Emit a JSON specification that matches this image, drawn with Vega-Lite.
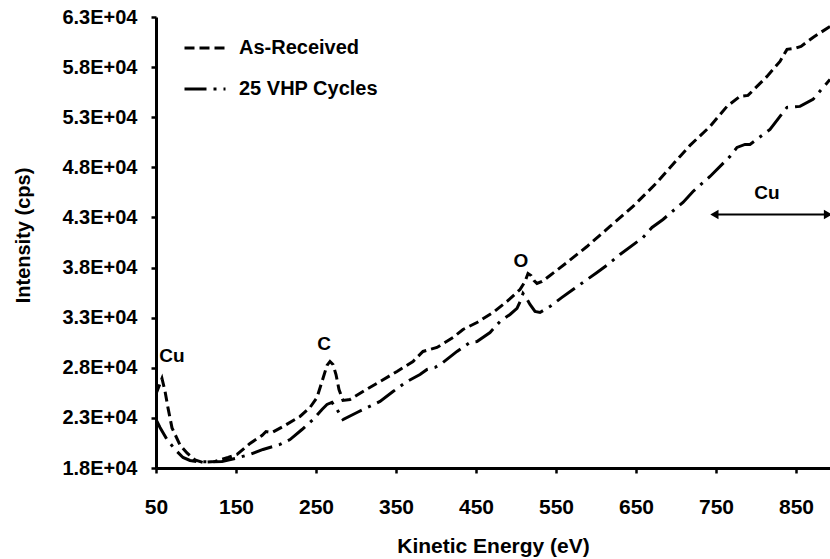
{
  "$schema": "https://vega.github.io/schema/vega-lite/v6.json",
  "width": 674,
  "height": 451,
  "autosize": {"type": "none"},
  "padding": {"left": 156, "top": 17, "right": 0, "bottom": 91},
  "background": "white",
  "config": {
    "view": {"stroke": null},
    "font": "Liberation Sans",
    "axis": {
      "domainColor": "black", "domainWidth": 3, "tickColor": "black", "tickWidth": 2.5, "tickSize": 5,
      "labelFont": "Liberation Sans", "labelFontWeight": "bold", "labelColor": "black", "labelFlush": false, "labelOverlap": false,
      "titleFont": "Liberation Sans", "titleFontWeight": "bold", "titleColor": "black", "grid": false
    }
  },
  "datasets": {
    "spectra": [
      {"series": "As-Received", "eV": 50, "cps": 25400},
      {"series": "As-Received", "eV": 55, "cps": 26400},
      {"series": "As-Received", "eV": 57.5, "cps": 26930},
      {"series": "As-Received", "eV": 61.25, "cps": 25680},
      {"series": "As-Received", "eV": 65, "cps": 24000},
      {"series": "As-Received", "eV": 70, "cps": 22000},
      {"series": "As-Received", "eV": 80, "cps": 20300},
      {"series": "As-Received", "eV": 88.75, "cps": 19500},
      {"series": "As-Received", "eV": 98.75, "cps": 18800},
      {"series": "As-Received", "eV": 108.75, "cps": 18550},
      {"series": "As-Received", "eV": 123.75, "cps": 18650},
      {"series": "As-Received", "eV": 140, "cps": 19050},
      {"series": "As-Received", "eV": 151.25, "cps": 19350},
      {"series": "As-Received", "eV": 167.5, "cps": 20450},
      {"series": "As-Received", "eV": 182.5, "cps": 21240},
      {"series": "As-Received", "eV": 187.5, "cps": 21640},
      {"series": "As-Received", "eV": 195, "cps": 21540},
      {"series": "As-Received", "eV": 208.75, "cps": 22140},
      {"series": "As-Received", "eV": 230, "cps": 23140},
      {"series": "As-Received", "eV": 242.5, "cps": 24040},
      {"series": "As-Received", "eV": 251.25, "cps": 25040},
      {"series": "As-Received", "eV": 257.5, "cps": 26630},
      {"series": "As-Received", "eV": 263.75, "cps": 28230},
      {"series": "As-Received", "eV": 267.5, "cps": 28630},
      {"series": "As-Received", "eV": 271.25, "cps": 28330},
      {"series": "As-Received", "eV": 275, "cps": 27330},
      {"series": "As-Received", "eV": 278.75, "cps": 25830},
      {"series": "As-Received", "eV": 283.75, "cps": 24740},
      {"series": "As-Received", "eV": 292.5, "cps": 24840},
      {"series": "As-Received", "eV": 308.75, "cps": 25630},
      {"series": "As-Received", "eV": 330, "cps": 26630},
      {"series": "As-Received", "eV": 351.25, "cps": 27630},
      {"series": "As-Received", "eV": 371.25, "cps": 28630},
      {"series": "As-Received", "eV": 383.75, "cps": 29630},
      {"series": "As-Received", "eV": 401.25, "cps": 30030},
      {"series": "As-Received", "eV": 421.25, "cps": 31020},
      {"series": "As-Received", "eV": 433.75, "cps": 31820},
      {"series": "As-Received", "eV": 451.25, "cps": 32520},
      {"series": "As-Received", "eV": 471.25, "cps": 33520},
      {"series": "As-Received", "eV": 488.75, "cps": 34620},
      {"series": "As-Received", "eV": 505, "cps": 35810},
      {"series": "As-Received", "eV": 511.25, "cps": 36610},
      {"series": "As-Received", "eV": 515, "cps": 37410},
      {"series": "As-Received", "eV": 518.75, "cps": 37210},
      {"series": "As-Received", "eV": 522.5, "cps": 36710},
      {"series": "As-Received", "eV": 526.25, "cps": 36410},
      {"series": "As-Received", "eV": 532.5, "cps": 36610},
      {"series": "As-Received", "eV": 542.5, "cps": 37210},
      {"series": "As-Received", "eV": 563.75, "cps": 38510},
      {"series": "As-Received", "eV": 588.75, "cps": 40100},
      {"series": "As-Received", "eV": 617.5, "cps": 42100},
      {"series": "As-Received", "eV": 646.25, "cps": 44100},
      {"series": "As-Received", "eV": 676.25, "cps": 46490},
      {"series": "As-Received", "eV": 705, "cps": 49090},
      {"series": "As-Received", "eV": 717.5, "cps": 50190},
      {"series": "As-Received", "eV": 742.5, "cps": 52080},
      {"series": "As-Received", "eV": 763.75, "cps": 54080},
      {"series": "As-Received", "eV": 780, "cps": 55080},
      {"series": "As-Received", "eV": 790, "cps": 55180},
      {"series": "As-Received", "eV": 795, "cps": 55580},
      {"series": "As-Received", "eV": 813.75, "cps": 57070},
      {"series": "As-Received", "eV": 830, "cps": 58570},
      {"series": "As-Received", "eV": 838.75, "cps": 59770},
      {"series": "As-Received", "eV": 848.75, "cps": 59870},
      {"series": "As-Received", "eV": 856.25, "cps": 60070},
      {"series": "As-Received", "eV": 871.25, "cps": 60960},
      {"series": "As-Received", "eV": 892.5, "cps": 62060},
      {"series": "25 VHP Cycles", "eV": 50, "cps": 22840},
      {"series": "25 VHP Cycles", "eV": 55, "cps": 22040},
      {"series": "25 VHP Cycles", "eV": 63.75, "cps": 20840},
      {"series": "25 VHP Cycles", "eV": 73.75, "cps": 19850},
      {"series": "25 VHP Cycles", "eV": 83.75, "cps": 19050},
      {"series": "25 VHP Cycles", "eV": 92.5, "cps": 18750},
      {"series": "25 VHP Cycles", "eV": 101.25, "cps": 18650},
      {"series": "25 VHP Cycles", "eV": 117.5, "cps": 18600},
      {"series": "25 VHP Cycles", "eV": 132.5, "cps": 18650},
      {"series": "25 VHP Cycles", "eV": 148.75, "cps": 18950},
      {"series": "25 VHP Cycles", "eV": 167.5, "cps": 19350},
      {"series": "25 VHP Cycles", "eV": 183.75, "cps": 19850},
      {"series": "25 VHP Cycles", "eV": 205, "cps": 20350},
      {"series": "25 VHP Cycles", "eV": 217.5, "cps": 20840},
      {"series": "25 VHP Cycles", "eV": 232.5, "cps": 21840},
      {"series": "25 VHP Cycles", "eV": 246.25, "cps": 22840},
      {"series": "25 VHP Cycles", "eV": 257.5, "cps": 23840},
      {"series": "25 VHP Cycles", "eV": 263.75, "cps": 24340},
      {"series": "25 VHP Cycles", "eV": 270, "cps": 24540},
      {"series": "25 VHP Cycles", "eV": 276.25, "cps": 23840},
      {"series": "25 VHP Cycles", "eV": 283.75, "cps": 22840},
      {"series": "25 VHP Cycles", "eV": 301.25, "cps": 23540},
      {"series": "25 VHP Cycles", "eV": 330, "cps": 24640},
      {"series": "25 VHP Cycles", "eV": 346.25, "cps": 25630},
      {"series": "25 VHP Cycles", "eV": 363.75, "cps": 26630},
      {"series": "25 VHP Cycles", "eV": 380, "cps": 27330},
      {"series": "25 VHP Cycles", "eV": 388.75, "cps": 27830},
      {"series": "25 VHP Cycles", "eV": 398.75, "cps": 28030},
      {"series": "25 VHP Cycles", "eV": 408.75, "cps": 28530},
      {"series": "25 VHP Cycles", "eV": 426.25, "cps": 29630},
      {"series": "25 VHP Cycles", "eV": 442.5, "cps": 30520},
      {"series": "25 VHP Cycles", "eV": 451.25, "cps": 30620},
      {"series": "25 VHP Cycles", "eV": 467.5, "cps": 31520},
      {"series": "25 VHP Cycles", "eV": 480, "cps": 32620},
      {"series": "25 VHP Cycles", "eV": 492.5, "cps": 33320},
      {"series": "25 VHP Cycles", "eV": 501.25, "cps": 33920},
      {"series": "25 VHP Cycles", "eV": 506.25, "cps": 34810},
      {"series": "25 VHP Cycles", "eV": 508.75, "cps": 35410},
      {"series": "25 VHP Cycles", "eV": 512.5, "cps": 35010},
      {"series": "25 VHP Cycles", "eV": 517.5, "cps": 34320},
      {"series": "25 VHP Cycles", "eV": 523.75, "cps": 33620},
      {"series": "25 VHP Cycles", "eV": 530, "cps": 33520},
      {"series": "25 VHP Cycles", "eV": 542.5, "cps": 34120},
      {"series": "25 VHP Cycles", "eV": 557.5, "cps": 35020},
      {"series": "25 VHP Cycles", "eV": 571.25, "cps": 35810},
      {"series": "25 VHP Cycles", "eV": 601.25, "cps": 37510},
      {"series": "25 VHP Cycles", "eV": 615, "cps": 38310},
      {"series": "25 VHP Cycles", "eV": 630, "cps": 39310},
      {"series": "25 VHP Cycles", "eV": 658.75, "cps": 41000},
      {"series": "25 VHP Cycles", "eV": 670, "cps": 42000},
      {"series": "25 VHP Cycles", "eV": 683.75, "cps": 42800},
      {"series": "25 VHP Cycles", "eV": 708.75, "cps": 44500},
      {"series": "25 VHP Cycles", "eV": 721.25, "cps": 45590},
      {"series": "25 VHP Cycles", "eV": 742.5, "cps": 47090},
      {"series": "25 VHP Cycles", "eV": 767.5, "cps": 49090},
      {"series": "25 VHP Cycles", "eV": 776.25, "cps": 49990},
      {"series": "25 VHP Cycles", "eV": 786.25, "cps": 50290},
      {"series": "25 VHP Cycles", "eV": 792.5, "cps": 50290},
      {"series": "25 VHP Cycles", "eV": 817.5, "cps": 51780},
      {"series": "25 VHP Cycles", "eV": 830, "cps": 53080},
      {"series": "25 VHP Cycles", "eV": 838.75, "cps": 53980},
      {"series": "25 VHP Cycles", "eV": 855, "cps": 54080},
      {"series": "25 VHP Cycles", "eV": 871.25, "cps": 54780},
      {"series": "25 VHP Cycles", "eV": 892.5, "cps": 56770}
    ],
    "labels": [
      {"label": "Cu", "eV": 70, "cps": 29130},
      {"label": "C", "eV": 260, "cps": 30330},
      {"label": "O", "eV": 506, "cps": 38610},
      {"label": "Cu", "eV": 813.75, "cps": 45390}
    ],
    "arrow": [
      {"eV": 748, "eV2": 890, "cps": 43300}
    ]
  },
  "layer": [
    {
      "mark": {"type": "rule", "stroke": "black", "strokeWidth": 3},
      "encoding": {"y": {"datum": 63000, "type": "quantitative"}}
    },
    {
      "data": {"name": "spectra"},
      "mark": {"type": "line", "stroke": "black", "strokeWidth": 3, "clip": true},
      "encoding": {
        "x": {
          "field": "eV", "type": "quantitative",
          "scale": {"domain": [50, 892.5], "nice": false, "zero": false},
          "axis": {
            "title": "Kinetic Energy (eV)", "values": [50, 150, 250, 350, 450, 550, 650, 750, 850],
            "labelFontSize": 21, "labelPadding": 23, "titleFontSize": 21, "titlePadding": 18
          }
        },
        "y": {
          "field": "cps", "type": "quantitative",
          "scale": {"domain": [18000, 63000], "nice": false, "zero": false},
          "axis": {
            "title": "Intensity (cps)",
            "values": [18000, 23000, 28000, 33000, 38000, 43000, 48000, 53000, 58000, 63000],
            "labelExpr": "format(datum.value / 10000, '.1f') + 'E+04'",
            "labelFontSize": 20, "labelPadding": 14, "titleFontSize": 20,
            "titleX": -133, "titleY": 218, "titleBaseline": "middle", "titleAlign": "center", "titleAngle": -90
          }
        },
        "strokeDash": {
          "field": "series", "type": "nominal",
          "scale": {"domain": ["As-Received", "25 VHP Cycles"], "range": [[10, 5], [22, 7, 3, 7]]},
          "legend": {
            "title": null, "orient": "none", "legendX": 27, "legendY": 9, "padding": 0,
            "symbolType": "stroke", "symbolSize": 1681, "symbolStrokeWidth": 3, "symbolStrokeColor": "black",
            "labelFontSize": 20, "labelFontWeight": "bold", "labelColor": "black", "labelFont": "Liberation Sans",
            "labelOffset": 12, "rowPadding": 9
          }
        }
      }
    },
    {
      "data": {"name": "labels"},
      "mark": {"type": "text", "font": "Liberation Sans", "fontWeight": "bold", "fontSize": 19, "color": "black"},
      "encoding": {
        "x": {"field": "eV", "type": "quantitative"},
        "y": {"field": "cps", "type": "quantitative"},
        "text": {"field": "label"}
      }
    },
    {
      "data": {"name": "arrow"},
      "mark": {"type": "rule", "stroke": "black", "strokeWidth": 2},
      "encoding": {
        "x": {"field": "eV", "type": "quantitative"},
        "x2": {"field": "eV2"},
        "y": {"field": "cps", "type": "quantitative"}
      }
    },
    {
      "data": {"name": "arrow"},
      "mark": {"type": "point", "shape": "triangle-left", "filled": true, "color": "black", "size": 90, "opacity": 1},
      "encoding": {
        "x": {"field": "eV", "type": "quantitative"},
        "y": {"field": "cps", "type": "quantitative"}
      }
    },
    {
      "data": {"name": "arrow"},
      "mark": {"type": "point", "shape": "triangle-right", "filled": true, "color": "black", "size": 90, "opacity": 1},
      "encoding": {
        "x": {"field": "eV2", "type": "quantitative"},
        "y": {"field": "cps", "type": "quantitative"}
      }
    }
  ]
}
